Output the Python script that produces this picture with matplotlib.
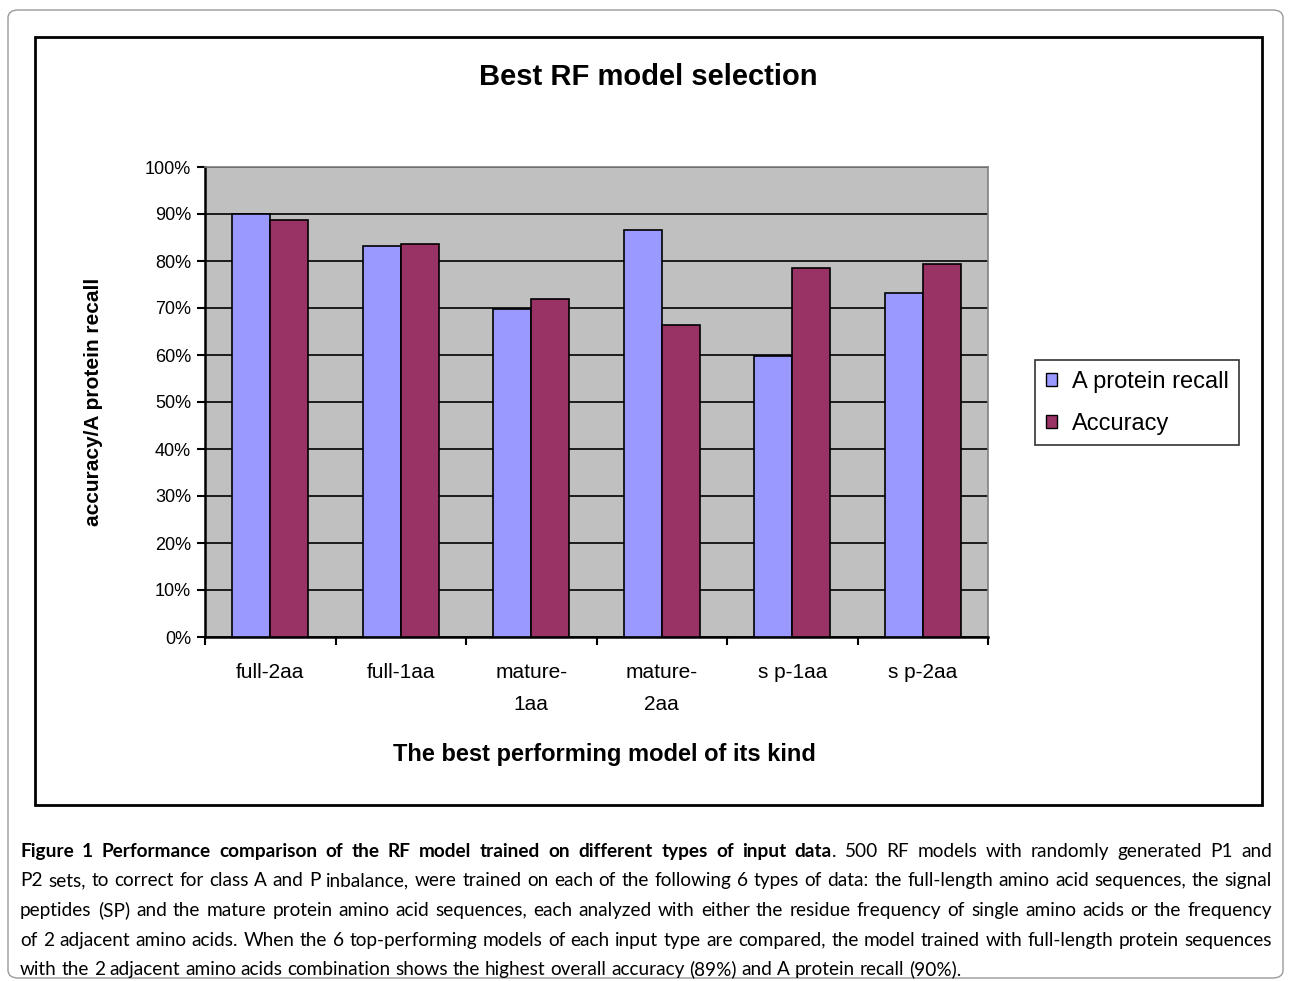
import numpy as np
import matplotlib.pyplot as plt
from matplotlib.patches import Rectangle, FancyBboxPatch

# -------------------------------------------------
# Data
# -------------------------------------------------
categories = ['full-2aa', 'full-1aa', 'mature-\n1aa', 'mature-\n2aa', 's p-1aa', 's p-2aa']
recall = [90.0, 83.2, 69.8, 86.6, 59.8, 73.2]
accuracy = [88.7, 83.6, 71.9, 66.4, 78.5, 79.4]
series_names = ['A protein recall', 'Accuracy']

yticks = np.arange(0, 101, 10)
ytick_labels = [f'{v}%' for v in yticks]

caption_bold = 'Figure 1 Performance comparison of the RF model trained on different types of input data'
caption_lines = [
    '. 500 RF models with randomly generated P1 and',
    'P2 sets, to correct for class A and P inbalance, were trained on each of the following 6 types of data: the full-length amino acid sequences, the signal',
    'peptides (SP) and the mature protein amino acid sequences, each analyzed with either the residue frequency of single amino acids or the frequency',
    'of 2 adjacent amino acids. When the 6 top-performing models of each input type are compared, the model trained with full-length protein sequences',
    'with the 2 adjacent amino acids combination shows the highest overall accuracy (89%) and A protein recall (90%).',
]

c_recall = '#9999FF'
c_acc = '#993366'
chart_font = 'Liberation Sans'

W, H = 1289, 981
fig = plt.figure(figsize=(W/100, H/100), dpi=100)

def fx(x):
    return x / W

def fy(y):
    return 1 - y / H

# outer rounded frame
fig.patches.append(FancyBboxPatch((fx(8), fy(978)), fx(1283) - fx(8), fy(10) - fy(978),
                                  boxstyle='round,pad=0,rounding_size=0.008',
                                  transform=fig.transFigure, fill=False,
                                  edgecolor='#9a9a9a', linewidth=1.0))
# inner chart frame
fig.patches.append(Rectangle((fx(35), fy(805)), fx(1262) - fx(35), fy(37) - fy(805),
                             transform=fig.transFigure, fill=False,
                             edgecolor='black', linewidth=2.0))

# -------------------------------------------------
# Plot area
# -------------------------------------------------
ax = fig.add_axes([fx(205), fy(637), fx(988) - fx(205), fy(167) - fy(637)])
ax.set_facecolor('#C0C0C0')

x = np.arange(len(categories))
bw = 0.29
ax.bar(x - bw/2, recall, bw, color=c_recall, edgecolor='black', linewidth=1.2,
       label=series_names[0], zorder=3)
ax.bar(x + bw/2, accuracy, bw, color=c_acc, edgecolor='black', linewidth=1.2,
       label=series_names[1], zorder=3)

ax.set_xlim(-0.5, len(categories) - 0.5)
ax.set_ylim(0, 100)
ax.set_yticks(yticks)
ax.set_yticklabels(ytick_labels, fontsize=13, family=chart_font)
ax.yaxis.grid(True, color='black', linewidth=1.2, zorder=0)
ax.set_axisbelow(True)

ax.set_xticks(np.arange(len(categories) + 1) - 0.5)
ax.set_xticklabels([])
ax.set_xticks(x, minor=True)
ax.set_xticklabels(categories, minor=True, fontsize=15, family=chart_font,
                   linespacing=1.85)
ax.tick_params(axis='x', which='minor', length=0, pad=19)
ax.tick_params(axis='x', which='major', length=6, width=1.5, direction='out')
ax.tick_params(axis='y', length=6, width=1.5, direction='out', pad=4)

for s in ['top', 'right']:
    ax.spines[s].set_color('#808080')
    ax.spines[s].set_linewidth(1.2)
for s in ['left', 'bottom']:
    ax.spines[s].set_color('black')
    ax.spines[s].set_linewidth(1.8)

ax.set_ylabel('accuracy/A protein recall', fontsize=15, fontweight='bold',
              family=chart_font, labelpad=30)
fig.text(fx(604), fy(755), 'The best performing model of its kind', ha='center',
         va='center', fontsize=17, fontweight='bold', family=chart_font)
fig.text(fx(648), fy(77), 'Best RF model selection', ha='center', va='center',
         fontsize=21, fontweight='bold', family=chart_font)

leg = ax.legend(loc='upper left', bbox_to_anchor=(fx(1035), fy(360)),
                bbox_transform=fig.transFigure, frameon=True, fancybox=False,
                prop={'family': chart_font, 'size': 17},
                handlelength=0.5, handleheight=0.5, handletextpad=0.6,
                labelspacing=0.85, borderpad=0.45, borderaxespad=0)
leg.get_frame().set_edgecolor('black')
leg.get_frame().set_linewidth(1.2)
for h in leg.legend_handles:
    h.set_edgecolor('black')
    h.set_linewidth(1.0)

# -------------------------------------------------
# Caption (justified)
# -------------------------------------------------
cap_font = ['Lato', 'DejaVu Sans']
x0, x1 = 20, 1272
line_y = [857, 886, 916, 946, 975]   # baselines

fig.canvas.draw()
renderer = fig.canvas.get_renderer()

def split_words(i, line):
    words = []
    if i == 0:
        for w in caption_bold.split(' '):
            words.append((w, 'bold'))
        rest = line.split(' ')
        words.append((rest[0], 'attach'))
        for w in rest[1:]:
            words.append((w, 'normal'))
    else:
        for w in line.split(' '):
            words.append((w, 'normal'))
    return words

def measure(s, size, bold=False):
    t = fig.text(0, 0, s, fontsize=size, family=cap_font,
                 fontweight='bold' if bold else 'normal')
    wd = t.get_window_extent(renderer).width
    t.remove()
    return wd

# fit the font size to the widest line with natural spacing
ref_size = 10.0
sp = measure('x x', ref_size) - measure('xx', ref_size)
widest = 0
for i, line in enumerate(caption_lines):
    words = split_words(i, line)
    tot = sum(measure(w, ref_size, wt == 'bold') for w, wt in words)
    tot += sp * sum(1 for _, wt in words[1:] if wt != 'attach')
    widest = max(widest, tot)
cap_size = min(14.0, ref_size * (x1 - x0) / widest * 0.995)
space = sp * cap_size / ref_size

for i, line in enumerate(caption_lines):
    words = split_words(i, line)
    texts = []
    for w, wt in words:
        t = fig.text(0, fy(line_y[i]), w, fontsize=cap_size, family=cap_font,
                     fontweight='bold' if wt == 'bold' else 'normal',
                     va='baseline', ha='left')
        texts.append((t, wt))
    widths = [t.get_window_extent(renderer).width for t, _ in texts]
    n_gaps = sum(1 for _, wt in texts[1:] if wt != 'attach')
    if i < len(caption_lines) - 1:
        gap = (x1 - x0 - sum(widths)) / n_gaps
    else:
        gap = space
    cur = x0
    for k, ((t, wt), wd) in enumerate(zip(texts, widths)):
        if k > 0 and wt != 'attach':
            cur += gap
        t.set_x(fx(cur))
        cur += wd

fig.savefig('out.png', dpi=100)
